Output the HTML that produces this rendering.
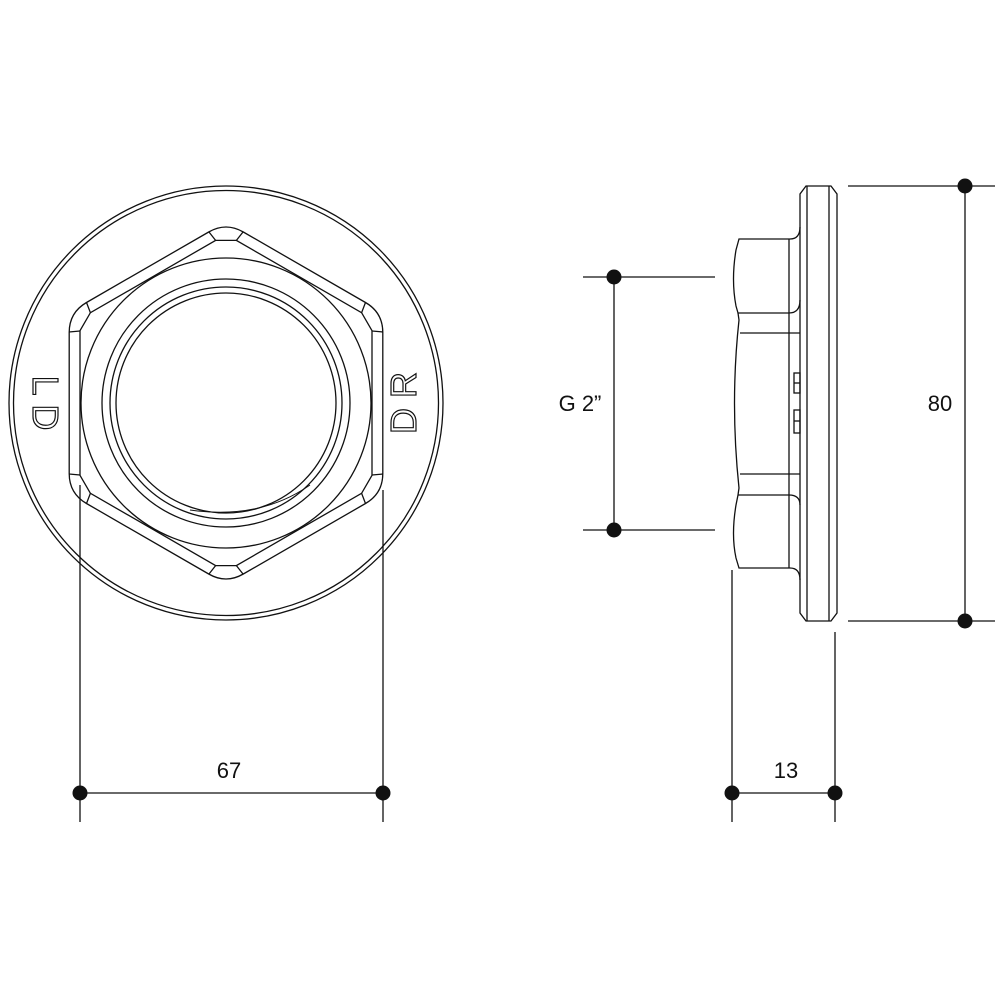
<!DOCTYPE html>
<html><head><style>body{margin:0;background:#fff}svg{display:block}</style></head><body>
<svg width="1000" height="1000" viewBox="0 0 1000 1000" xmlns="http://www.w3.org/2000/svg" font-family="Liberation Sans, sans-serif">
<g fill="none" stroke="#111" stroke-width="1.3">
<circle cx="226" cy="403" r="217"/>
<circle cx="226" cy="403" r="212.5"/>
<path d="M208.7,232 Q226,222 243.3,232 L365.5,302.5 Q382.8,312.5 382.8,332.5 L382.8,473.5 Q382.8,493.5 365.5,503.5 L243.3,574 Q226,584 208.7,574 L86.5,503.5 Q69.2,493.5 69.2,473.5 L69.2,332.5 Q69.2,312.5 86.5,302.5 Z"/>
<path d="M215.6,240.4 L236.4,240.4 L361.6,312.7 L372,330.7 L372,475.3 L361.6,493.3 L236.4,565.6 L215.6,565.6 L90.4,493.3 L80,475.3 L80,330.7 L90.4,312.7 Z"/>
<path d="M209,232 L215.6,240.4 M243,232 L236.4,240.4 M365.5,302.5 L361.6,312.7 M383,332 L372,331 M383,474 L372,475 M365.5,503.5 L361.6,493.3 M243,574 L236.4,565.6 M209,574 L215.6,565.6 M86.5,503.5 L90.4,493.3 M69,474 L80,475 M69,332 L80,331 M86.5,302.5 L90.4,312.7"/>
<circle cx="226" cy="403" r="145"/>
<circle cx="226" cy="403" r="124"/>
<circle cx="226" cy="403" r="116"/>
<circle cx="226" cy="403" r="110"/>
<path d="M310,485 Q260,520 190,510" stroke-width="1"/>
</g>
<g font-size="36" fill="none" stroke="#111" stroke-width="1.2">
<text transform="translate(33,403) rotate(90)" text-anchor="middle">L D</text>
<text transform="translate(416,403) rotate(-90)" text-anchor="middle">D R</text>
</g>
<g fill="none" stroke="#111" stroke-width="1.3">
<path d="M806,186 L831,186 L837,194 L837,613 L831,621 L806,621 L800,613 L800,194 Z"/>
<line x1="807" y1="186" x2="807" y2="621"/>
<line x1="829" y1="186" x2="829" y2="621"/>
<path d="M800,227 Q800,239 790,239 L739,239 L736,250 Q731,280 736,306 L738,313 L789,313 Q800,313 800,300"/>
<path d="M738,313 L739,320 Q730,403 739,488 L738,495"/>
<path d="M738,495 L789,495 Q800,495 800,505 M738,495 L736,505 Q731,535 736,558 L739,568 L790,568 Q800,568 800,580"/>
<line x1="789" y1="239" x2="789" y2="568"/>
<line x1="740" y1="333" x2="800" y2="333"/>
<line x1="740" y1="474" x2="800" y2="474"/>
<rect x="794" y="373" width="6" height="20"/>
<line x1="794" y1="383" x2="800" y2="383"/>
<rect x="794" y="410" width="6" height="23"/>
<line x1="794" y1="421" x2="800" y2="421"/>
</g>
<g stroke="#111" stroke-width="1.3">
<line x1="80" y1="485" x2="80" y2="822"/>
<line x1="383" y1="490" x2="383" y2="822"/>
<line x1="80" y1="793" x2="383" y2="793"/>
<line x1="732" y1="570" x2="732" y2="822"/>
<line x1="835" y1="632" x2="835" y2="822"/>
<line x1="732" y1="793" x2="835" y2="793"/>
<line x1="583" y1="277" x2="715" y2="277"/>
<line x1="583" y1="530" x2="715" y2="530"/>
<line x1="614" y1="277" x2="614" y2="530"/>
<line x1="848" y1="186" x2="995" y2="186"/>
<line x1="848" y1="621" x2="995" y2="621"/>
<line x1="965" y1="186" x2="965" y2="621"/>
</g>
<g fill="#111">
<circle cx="80" cy="793" r="7.5"/><circle cx="383" cy="793" r="7.5"/>
<circle cx="732" cy="793" r="7.5"/><circle cx="835" cy="793" r="7.5"/>
<circle cx="614" cy="277" r="7.5"/><circle cx="614" cy="530" r="7.5"/>
<circle cx="965" cy="186" r="7.5"/><circle cx="965" cy="621" r="7.5"/>
</g>
<g font-size="22" fill="#111" text-anchor="middle">
<text x="229" y="778">67</text>
<text x="786" y="778">13</text>
<text x="580" y="411">G 2”</text>
<text x="940" y="411">80</text>
</g>
</svg>
</body></html>
